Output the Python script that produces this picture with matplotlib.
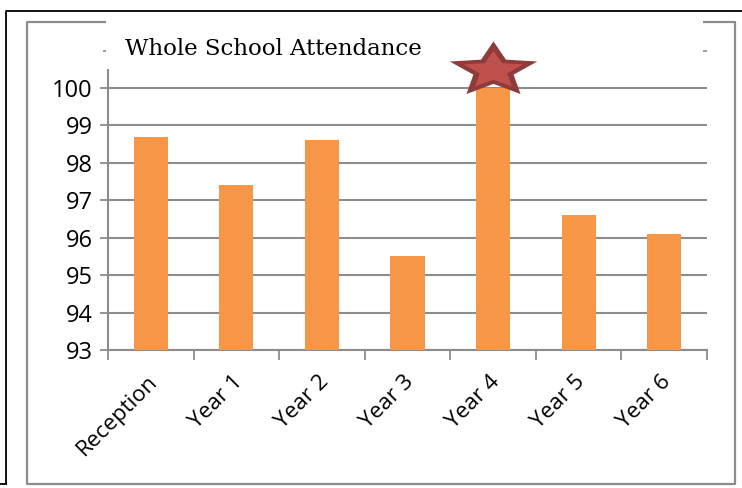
import numpy as np
import matplotlib.pyplot as plt
from matplotlib.lines import Line2D
from matplotlib.transforms import ScaledTranslation

# attendance per year group (%)
categories = ['Reception', 'Year 1', 'Year 2', 'Year 3', 'Year 4', 'Year 5', 'Year 6']
attendance = [98.7, 97.4, 98.6, 95.5, 100.0, 96.6, 96.1]
star_at = 4          # index of the year group marked with a star
star_level = 100.48  # where the star sits

W, H = 742, 488
BAR = '#F79646'
GREY = '#8C8C8C'

fig = plt.figure(figsize=(W / 100, H / 100), dpi=100)


def px(x, y):
    # pixel position (from top left) -> figure fraction
    return x / W, 1 - y / H


def fig_line(xs, ys, color, lw):
    pts = [px(x, y) for x, y in zip(xs, ys)]
    fig.add_artist(Line2D([p[0] for p in pts], [p[1] for p in pts],
                          color=color, lw=lw, transform=fig.transFigure,
                          solid_capstyle='butt'))


# outer black frame (cut off on the right)
fig_line([6, 6, 745], [484, 11, 11], 'black', 1.3)
fig_line([0, 7], [484, 484], 'black', 1.3)
# grey chart box, top broken by the title
fig_line([106, 27, 27, 735, 735, 703], [22, 22, 484, 484, 22, 22], GREY, 1.6)
fig_line([103, 106], [51, 51], GREY, 1.2)
fig_line([703, 707], [51, 51], GREY, 1.2)

l, b = px(108, 350)
r, t = px(707, 70)
ax = fig.add_axes([l, b, r - l, t - b])

x = np.arange(len(categories))
ax.bar(x, [v - 93 for v in attendance], bottom=93, width=0.4, color=BAR, zorder=3)
ax.set_xlim(-0.5, len(categories) - 0.5)
ax.set_ylim(93, 100.48)

ax.set_yticks(range(93, 101))
ax.set_yticklabels([str(v) for v in range(93, 101)], fontsize=17, family='Open Sans')
ax.yaxis.grid(True, color=GREY, lw=1.5, zorder=0)
ax.tick_params(axis='y', direction='out', length=6, color=GREY, width=1.3, pad=5)

ax.set_xticks(np.arange(-0.5, len(categories), 1))
ax.set_xticklabels([])
ax.set_xticks(x, minor=True)
ax.set_xticklabels(categories, minor=True, rotation=45, ha='right',
                   rotation_mode='anchor', fontsize=16.2, family='Open Sans')
ax.tick_params(axis='x', which='major', direction='out', length=7, color=GREY, width=1.3)
ax.tick_params(axis='x', which='minor', length=0, pad=15)
shift = ScaledTranslation(-4 / 100, 0, fig.dpi_scale_trans)
for lab in ax.get_xticklabels(minor=True):
    lab.set_transform(lab.get_transform() + shift)

for side in ['top', 'right']:
    ax.spines[side].set_visible(False)
for side in ['left', 'bottom']:
    ax.spines[side].set_color(GREY)
    ax.spines[side].set_linewidth(1.5)

# flattened star over the top bar: dark outer star with a lighter one inside
k = 1.58
ang = np.pi / 2 + np.arange(10) * np.pi / 5
rad = np.where(np.arange(10) % 2 == 0, 1.0, 0.46)
star = np.column_stack([k * rad * np.cos(ang), rad * np.sin(ang)])
ax.plot([star_at], [star_level], marker=star, markersize=63, color='#8E3B3A',
        markeredgewidth=0, clip_on=False, zorder=5)
ax.plot([star_at], [star_level], marker=star, markersize=43, color='#C0504D',
        markeredgewidth=0, clip_on=False, zorder=6)

fig.text(*px(125, 49), 'Whole School Attendance', family='DejaVu Serif',
         fontsize=16.5, va='center', ha='left')

fig.savefig('out.png', dpi=100)
